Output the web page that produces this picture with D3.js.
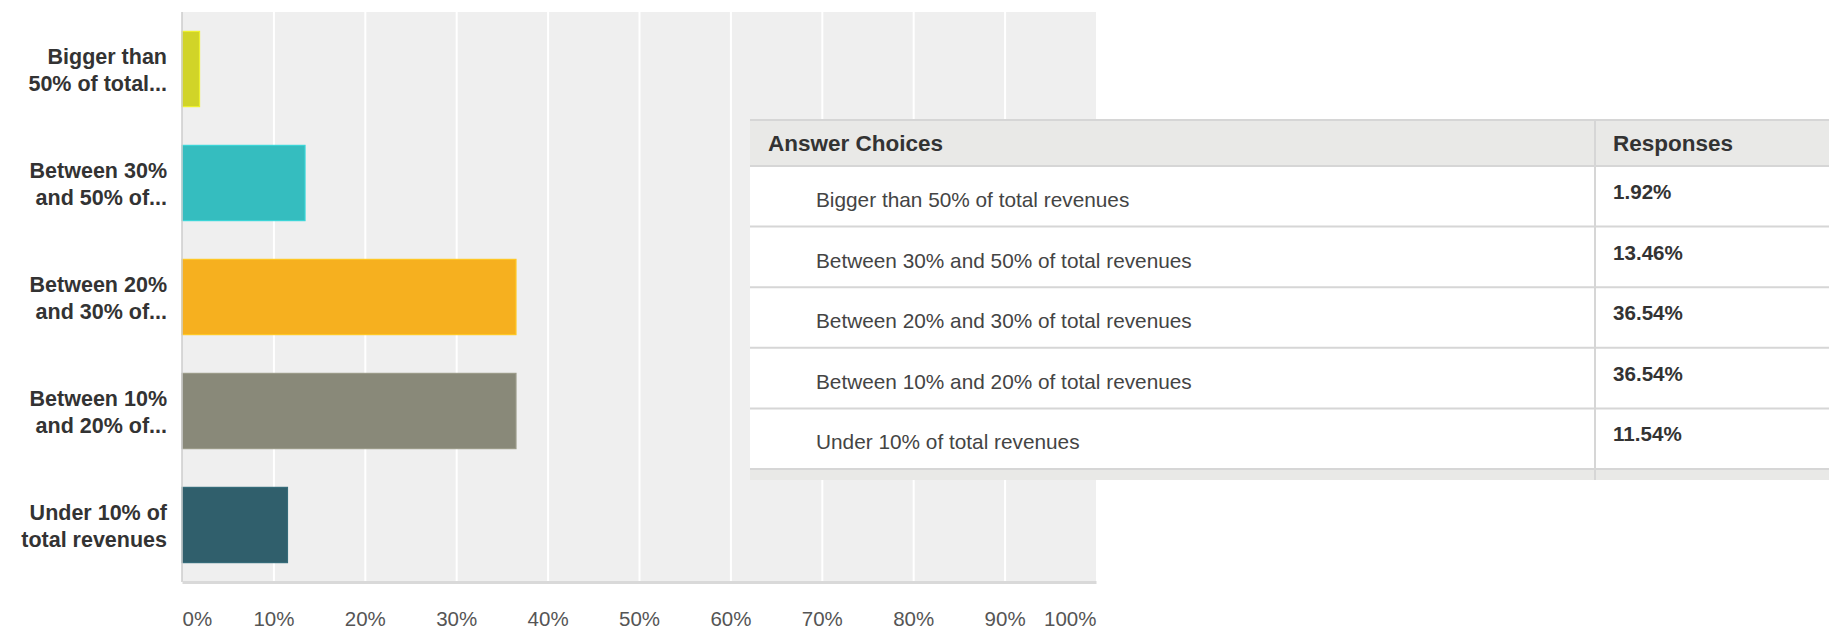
<!DOCTYPE html>
<html>
<head>
<meta charset="utf-8">
<script src="https://cdn.jsdelivr.net/npm/d3@7"></script>
<style>
  html, body { margin: 0; padding: 0; background: #ffffff; }
  svg { display: block; font-family: "Liberation Sans", Arial, sans-serif; }
</style>
</head>
<body>
<svg id="chart" width="1829" height="629"></svg>
<script>
// ---- data ----
const categories = [
  "Bigger than 50% of total revenues",
  "Between 30% and 50% of total revenues",
  "Between 20% and 30% of total revenues",
  "Between 10% and 20% of total revenues",
  "Under 10% of total revenues"
];
const axisLabels = [
  ["Bigger than", "50% of total..."],
  ["Between 30%", "and 50% of..."],
  ["Between 20%", "and 30% of..."],
  ["Between 10%", "and 20% of..."],
  ["Under 10% of", "total revenues"]
];
const values = [1.92, 13.46, 36.54, 36.54, 11.54];
const barColors = ["#d1d428", "#35bdbf", "#f6b01f", "#898979", "#305f6c"];
const tickValues = [0, 10, 20, 30, 40, 50, 60, 70, 80, 90, 100];
const tickLabels = ["0%", "10%", "20%", "30%", "40%", "50%", "60%", "70%", "80%", "90%", "100%"];
const tableHeaders = ["Answer Choices", "Responses"];

// ---- layout ----
const plot = { left: 182, right: 1096, top: 12, bottom: 582 };
const svg = d3.select("#chart");

const x = d3.scaleLinear().domain([0, 100]).range([plot.left, plot.right]);
const y = d3.scaleBand().domain(categories).range([plot.top, plot.bottom])
  .paddingInner(0.34).paddingOuter(0.17);

// plot background
svg.append("rect")
  .attr("x", plot.left).attr("y", plot.top)
  .attr("width", plot.right - plot.left).attr("height", plot.bottom - plot.top)
  .attr("fill", "#efefef");

// grid lines
const grid = svg.append("g")
  .attr("transform", `translate(0,${plot.bottom})`)
  .call(d3.axisBottom(x).tickValues(tickValues.filter(v => v > 0 && v < 100))
    .tickSize(-(plot.bottom - plot.top)).tickFormat(""));
grid.select(".domain").remove();
grid.selectAll(".tick line").attr("stroke", "#ffffff").attr("stroke-width", 2);

// bars
svg.append("g").selectAll("rect")
  .data(categories)
  .join("rect")
  .attr("x", x(0))
  .attr("y", d => y(d))
  .attr("width", (d, i) => x(values[i]) - x(0))
  .attr("height", y.bandwidth())
  .attr("fill", (d, i) => barColors[i])
  .attr("stroke", (d, i) => d3.color(barColors[i]).brighter(0.35))
  .attr("stroke-width", 1.2);

// left axis line
svg.append("line")
  .attr("x1", plot.left).attr("x2", plot.left)
  .attr("y1", plot.top).attr("y2", plot.bottom)
  .attr("stroke", "#cccccc").attr("stroke-width", 1.5);

// bottom axis
const xAxis = svg.append("g")
  .attr("transform", `translate(0,${plot.bottom})`)
  .call(d3.axisBottom(x).tickValues(tickValues).tickSize(0).tickPadding(29)
    .tickFormat((d, i) => tickLabels[i]));
xAxis.select(".domain").attr("stroke", "#d9d9d9").attr("stroke-width", 3);
xAxis.selectAll(".tick text")
  .attr("font-size", 20.5)
  .attr("fill", "#555555")
  .attr("font-family", "'Liberation Sans', Arial, sans-serif")
  .attr("text-anchor", (d, i) => i === 0 ? "start" : (i === tickValues.length - 1 ? "end" : "middle"));

// y axis labels
const yl = svg.append("g").selectAll("text")
  .data(categories)
  .join("text")
  .attr("x", plot.left - 15)
  .attr("y", d => y(d) + y.bandwidth() / 2)
  .attr("text-anchor", "end")
  .attr("font-size", 21.5)
  .attr("font-weight", "bold")
  .attr("fill", "#333333");
yl.each(function(d, i) {
  const t = d3.select(this);
  axisLabels[i].forEach((line, j) => {
    t.append("tspan")
      .attr("x", plot.left - 15)
      .attr("dy", j === 0 ? "-0.22em" : "1.24em")
      .text(line);
  });
});

// ---- table ----
const tbl = { left: 750, right: 1829, top: 120, headerBottom: 166, rowH: 60.6, colDiv: 1595, footer: 11 };
const rowTop = i => tbl.headerBottom + i * tbl.rowH;
const tableBottom = rowTop(categories.length);
const tg = svg.append("g");

// white body
tg.append("rect").attr("x", tbl.left).attr("y", tbl.top)
  .attr("width", tbl.right - tbl.left).attr("height", tableBottom + tbl.footer - tbl.top)
  .attr("fill", "#ffffff");
// header bg
tg.append("rect").attr("x", tbl.left).attr("y", tbl.top)
  .attr("width", tbl.right - tbl.left).attr("height", tbl.headerBottom - tbl.top)
  .attr("fill", "#e9e9e7");
// footer bg
tg.append("rect").attr("x", tbl.left).attr("y", tableBottom)
  .attr("width", tbl.right - tbl.left).attr("height", tbl.footer)
  .attr("fill", "#e9e9e7");
// horizontal lines
const hLines = [tbl.top, tbl.headerBottom].concat(categories.map((d, i) => rowTop(i + 1)));
tg.selectAll("line.h").data(hLines).join("line")
  .attr("class", "h")
  .attr("x1", tbl.left).attr("x2", tbl.right)
  .attr("y1", d => d).attr("y2", d => d)
  .attr("stroke", "#d6d6d6").attr("stroke-width", 2);
// column divider
tg.append("line").attr("x1", tbl.colDiv).attr("x2", tbl.colDiv)
  .attr("y1", tbl.top).attr("y2", tableBottom + tbl.footer)
  .attr("stroke", "#d6d6d6").attr("stroke-width", 2);

// header text
tg.append("text").attr("x", 768).attr("y", 151)
  .attr("font-size", 22.5).attr("font-weight", "bold").attr("fill", "#333333")
  .text(tableHeaders[0]);
tg.append("text").attr("x", 1613).attr("y", 151)
  .attr("font-size", 22.5).attr("font-weight", "bold").attr("fill", "#333333")
  .text(tableHeaders[1]);

// rows
tg.selectAll("text.lbl").data(categories).join("text")
  .attr("class", "lbl")
  .attr("x", 816)
  .attr("y", (d, i) => rowTop(i) + 41)
  .attr("font-size", 20.8)
  .attr("fill", "#444444")
  .text(d => d);
tg.selectAll("text.val").data(values).join("text")
  .attr("class", "val")
  .attr("x", 1613)
  .attr("y", (d, i) => rowTop(i) + 33)
  .attr("font-size", 20.6)
  .attr("font-weight", "bold")
  .attr("fill", "#333333")
  .text(d => d.toFixed(2) + "%");
</script>
</body>
</html>
